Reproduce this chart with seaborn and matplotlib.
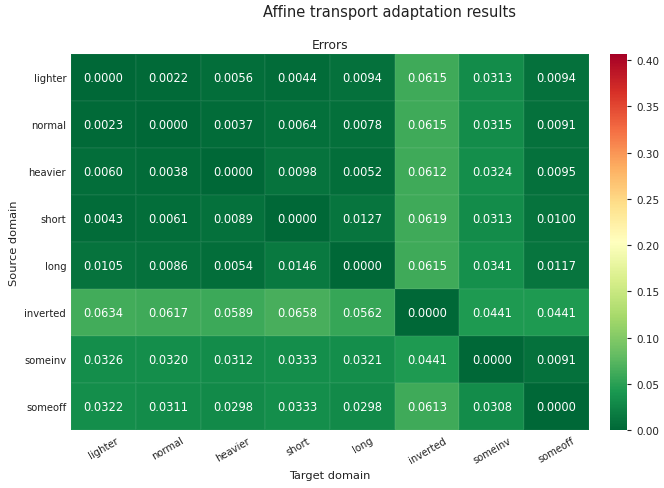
import numpy as np
import pandas as pd
import matplotlib
matplotlib.use("Agg")
import matplotlib.pyplot as plt
import seaborn as sns

domains = ["lighter", "normal", "heavier", "short", "long", "inverted", "someinv", "someoff"]

row_lighter = [0.0000, 0.0022, 0.0056, 0.0044, 0.0094, 0.0615, 0.0313, 0.0094]
row_normal = [0.0023, 0.0000, 0.0037, 0.0064, 0.0078, 0.0615, 0.0315, 0.0091]
row_heavier = [0.0060, 0.0038, 0.0000, 0.0098, 0.0052, 0.0612, 0.0324, 0.0095]
row_short = [0.0043, 0.0061, 0.0089, 0.0000, 0.0127, 0.0619, 0.0313, 0.0100]
row_long = [0.0105, 0.0086, 0.0054, 0.0146, 0.0000, 0.0615, 0.0341, 0.0117]
row_inverted = [0.0634, 0.0617, 0.0589, 0.0658, 0.0562, 0.0000, 0.0441, 0.0441]
row_someinv = [0.0326, 0.0320, 0.0312, 0.0333, 0.0321, 0.0441, 0.0000, 0.0091]
row_someoff = [0.0322, 0.0311, 0.0298, 0.0333, 0.0298, 0.0613, 0.0308, 0.0000]

df = pd.DataFrame([row_lighter, row_normal, row_heavier, row_short, row_long,
                   row_inverted, row_someinv, row_someoff],
                  index=domains, columns=domains)

sns.set_theme(style="white")
plt.rcParams['font.family'] = ['DejaVu Sans']
plt.rcParams['text.color'] = '#222222'
plt.rcParams['axes.labelcolor'] = '#222222'
plt.rcParams['xtick.color'] = '#222222'
plt.rcParams['ytick.color'] = '#222222'

fig = plt.figure(figsize=(6.64, 4.89), dpi=100)
ax = fig.add_axes([0.107, 0.1186, 0.780, 0.7689])
cax = fig.add_axes([0.9187, 0.1186, 0.0256, 0.7689])

sns.heatmap(df, ax=ax, cbar_ax=cax, cmap="RdYlGn_r", vmin=0.0, vmax=0.4065,
            annot=True, fmt=".4f", annot_kws={"fontsize": 8.3, "color": "white"},
            linewidths=0.2, linecolor=(1, 1, 1, 0.04))

ax.set_title("Errors", fontsize=8.8, pad=4)
ax.set_xlabel("Target domain", fontsize=8.2)
ax.set_ylabel("Source domain", fontsize=8.2)
ax.tick_params(axis="x", labelsize=7.2, rotation=30, length=0)
ax.tick_params(axis="y", labelsize=7.2, rotation=0, length=0)
for lab in ax.get_xticklabels():
    lab.set_ha("center")

cax.set_yticks([0.0, 0.05, 0.10, 0.15, 0.20, 0.25, 0.30, 0.35, 0.40])
cax.tick_params(labelsize=7.5, length=3, width=0.8, left=False, right=True)
cax.yaxis.set_major_formatter(matplotlib.ticker.FormatStrFormatter('%.2f'))

fig.suptitle("Affine transport adaptation results", fontsize=10.5, x=0.586, y=0.99)

fig.savefig("out.png", dpi=100)
